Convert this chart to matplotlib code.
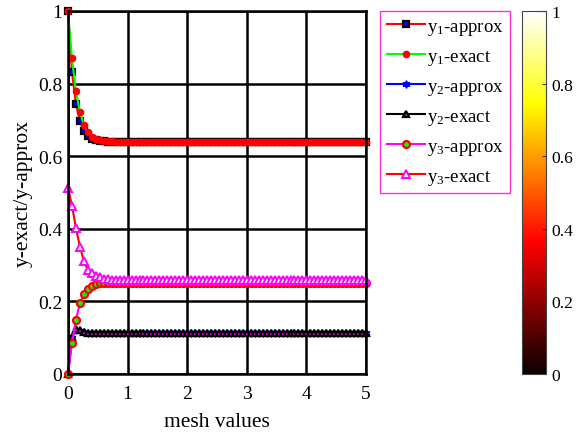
import numpy as np
import matplotlib
matplotlib.use("Agg")
import matplotlib.pyplot as plt
from matplotlib.ticker import FormatStrFormatter
from matplotlib.cm import ScalarMappable
from matplotlib.colors import Normalize

plt.rcParams['font.family'] = ['Liberation Serif', 'DejaVu Serif']
plt.rcParams['mathtext.fontset'] = 'custom'
plt.rcParams['mathtext.rm'] = 'Liberation Serif'
plt.rcParams['mathtext.it'] = 'Liberation Serif'

# mesh points on [0, 5]
mesh = np.linspace(0, 5, 76)

y1_approx = [
    1.000, 0.832, 0.744, 0.697, 0.670, 0.656, 0.648, 0.644, 0.642, 0.641,
    0.640, 0.640, 0.640, 0.640, 0.640, 0.640, 0.640, 0.640, 0.640, 0.640,
    0.640, 0.640, 0.640, 0.640, 0.640, 0.640, 0.640, 0.640, 0.640, 0.640,
    0.640, 0.640, 0.640, 0.640, 0.640, 0.640, 0.640, 0.640, 0.640, 0.640,
    0.640, 0.640, 0.640, 0.640, 0.640, 0.640, 0.640, 0.640, 0.640, 0.640,
    0.640, 0.640, 0.640, 0.640, 0.640, 0.640, 0.640, 0.640, 0.640, 0.640,
    0.640, 0.640, 0.640, 0.640, 0.640, 0.640, 0.640, 0.640, 0.640, 0.640,
    0.640, 0.640, 0.640, 0.640, 0.640, 0.640,
]
y1_exact = [
    1.000, 0.870, 0.779, 0.721, 0.686, 0.666, 0.654, 0.648, 0.645, 0.643,
    0.642, 0.641, 0.640, 0.640, 0.640, 0.640, 0.640, 0.640, 0.640, 0.640,
    0.640, 0.640, 0.640, 0.640, 0.640, 0.640, 0.640, 0.640, 0.640, 0.640,
    0.640, 0.640, 0.640, 0.640, 0.640, 0.640, 0.640, 0.640, 0.640, 0.640,
    0.640, 0.640, 0.640, 0.640, 0.640, 0.640, 0.640, 0.640, 0.640, 0.640,
    0.640, 0.640, 0.640, 0.640, 0.640, 0.640, 0.640, 0.640, 0.640, 0.640,
    0.640, 0.640, 0.640, 0.640, 0.640, 0.640, 0.640, 0.640, 0.640, 0.640,
    0.640, 0.640, 0.640, 0.640, 0.640, 0.640,
]
y2_approx = [
    0.000, 0.100, 0.122, 0.118, 0.115, 0.114, 0.113, 0.112, 0.112, 0.112,
    0.112, 0.112, 0.112, 0.112, 0.112, 0.112, 0.112, 0.112, 0.112, 0.112,
    0.112, 0.112, 0.112, 0.112, 0.112, 0.112, 0.112, 0.112, 0.112, 0.112,
    0.112, 0.112, 0.112, 0.112, 0.112, 0.112, 0.112, 0.112, 0.112, 0.112,
    0.112, 0.112, 0.112, 0.112, 0.112, 0.112, 0.112, 0.112, 0.112, 0.112,
    0.112, 0.112, 0.112, 0.112, 0.112, 0.112, 0.112, 0.112, 0.112, 0.112,
    0.112, 0.112, 0.112, 0.112, 0.112, 0.112, 0.112, 0.112, 0.112, 0.112,
    0.112, 0.112, 0.112, 0.112, 0.112, 0.112,
]
y2_exact = [
    0.000, 0.102, 0.125, 0.120, 0.116, 0.114, 0.113, 0.112, 0.112, 0.112,
    0.112, 0.112, 0.112, 0.112, 0.112, 0.112, 0.112, 0.112, 0.112, 0.112,
    0.112, 0.112, 0.112, 0.112, 0.112, 0.112, 0.112, 0.112, 0.112, 0.112,
    0.112, 0.112, 0.112, 0.112, 0.112, 0.112, 0.112, 0.112, 0.112, 0.112,
    0.112, 0.112, 0.112, 0.112, 0.112, 0.112, 0.112, 0.112, 0.112, 0.112,
    0.112, 0.112, 0.112, 0.112, 0.112, 0.112, 0.112, 0.112, 0.112, 0.112,
    0.112, 0.112, 0.112, 0.112, 0.112, 0.112, 0.112, 0.112, 0.112, 0.112,
    0.112, 0.112, 0.112, 0.112, 0.112, 0.112,
]
y3_approx = [
    0.000, 0.085, 0.150, 0.195, 0.220, 0.234, 0.243, 0.248, 0.250, 0.251,
    0.252, 0.252, 0.252, 0.252, 0.252, 0.252, 0.252, 0.252, 0.252, 0.252,
    0.252, 0.252, 0.252, 0.252, 0.252, 0.252, 0.252, 0.252, 0.252, 0.252,
    0.252, 0.252, 0.252, 0.252, 0.252, 0.252, 0.252, 0.252, 0.252, 0.252,
    0.252, 0.252, 0.252, 0.252, 0.252, 0.252, 0.252, 0.252, 0.252, 0.252,
    0.252, 0.252, 0.252, 0.252, 0.252, 0.252, 0.252, 0.252, 0.252, 0.252,
    0.252, 0.252, 0.252, 0.252, 0.252, 0.252, 0.252, 0.252, 0.252, 0.252,
    0.252, 0.252, 0.252, 0.252, 0.252, 0.252,
]
y3_exact = [
    0.512, 0.464, 0.402, 0.351, 0.310, 0.287, 0.277, 0.270, 0.266, 0.263,
    0.261, 0.260, 0.260, 0.260, 0.260, 0.260, 0.260, 0.260, 0.260, 0.260,
    0.260, 0.260, 0.260, 0.260, 0.260, 0.260, 0.260, 0.260, 0.260, 0.260,
    0.260, 0.260, 0.260, 0.260, 0.260, 0.260, 0.260, 0.260, 0.260, 0.260,
    0.260, 0.260, 0.260, 0.260, 0.260, 0.260, 0.260, 0.260, 0.260, 0.260,
    0.260, 0.260, 0.260, 0.260, 0.260, 0.260, 0.260, 0.260, 0.260, 0.260,
    0.260, 0.260, 0.260, 0.260, 0.260, 0.260, 0.260, 0.260, 0.260, 0.260,
    0.260, 0.260, 0.260, 0.260, 0.260, 0.260,
]

labels = ['y$_1$-approx', 'y$_1$-exact', 'y$_2$-approx',
          'y$_2$-exact', 'y$_3$-approx', 'y$_3$-exact']

fig = plt.figure(figsize=(5.84, 4.35), dpi=100)
ax = fig.add_axes([68/584, 1 - 375/435, 298/584, 363/435])

lw = 1.5
ms = 4.5
ax.plot(mesh, y1_approx, '-', color='red', lw=lw, marker='s', ms=ms,
        mfc='blue', mec='black', mew=1.6, clip_on=False, label=labels[0])
ax.plot(mesh, y1_exact, '-', color='#00ff00', lw=lw, marker='o', ms=ms,
        mfc='red', mec='red', clip_on=False, label=labels[1])
ax.plot(mesh, y2_approx, '-', color='blue', lw=lw, marker=(6, 1, 0), ms=ms + 1,
        mfc='blue', mec='blue', clip_on=False, label=labels[2])
ax.plot(mesh, y2_exact, '-', color='black', lw=lw, marker='^', ms=ms + 0.5,
        mfc='magenta', mec='black', mew=1.6, clip_on=False, label=labels[3])
ax.plot(mesh, y3_approx, '-', color='magenta', lw=lw, marker='o', ms=ms + 0.5,
        mfc='#00ff00', mec='red', mew=1.6, clip_on=False, label=labels[4])
ax.plot(mesh, y3_exact, '-', color='red', lw=lw, marker='^', ms=ms + 1,
        mfc='white', mec='magenta', mew=1.4, clip_on=False, label=labels[5])

ax.set_xlim(0, 5)
ax.set_ylim(0, 1)
ax.set_xticks([0, 1, 2, 3, 4, 5])
ax.set_yticks([0, 0.2, 0.4, 0.6, 0.8, 1])
ax.yaxis.set_major_formatter(FormatStrFormatter('%g'))
ax.grid(True, color='black', lw=1.8)
ax.set_axisbelow(True)
for sp in ax.spines.values():
    sp.set_linewidth(1.8)
ax.tick_params(direction='in', length=3, labelsize=14)
ax.tick_params(axis='x', pad=8)
ax.tick_params(axis='y', pad=4)
ax.set_xlabel('mesh values', fontsize=15.5, labelpad=7)
ax.set_ylabel('y-exact/y-approx', fontsize=15.5, labelpad=4)

leg = fig.legend(loc='upper left', bbox_to_anchor=(380/584, 1 - 12/435),
                 fontsize=13.5, handlelength=2.05, handletextpad=0.1,
                 labelspacing=0.58, borderpad=0.35, borderaxespad=0,
                 fancybox=False, framealpha=1, edgecolor='#ff33cc')
leg.get_frame().set_linewidth(1.0)

cax = fig.add_axes([522/584, 1 - 375/435, 24/584, 363/435])
sm = ScalarMappable(norm=Normalize(0, 1), cmap='hot')
cb = fig.colorbar(sm, cax=cax)
cb.set_ticks([0, 0.2, 0.4, 0.6, 0.8, 1])
cb.ax.yaxis.set_major_formatter(FormatStrFormatter('%g'))
cb.outline.set_edgecolor('#444444')
cb.outline.set_linewidth(0.8)
cb.ax.tick_params(direction='in', length=3, color='#333333', labelsize=12.6, pad=4)

fig.savefig('out.png', dpi=100)
